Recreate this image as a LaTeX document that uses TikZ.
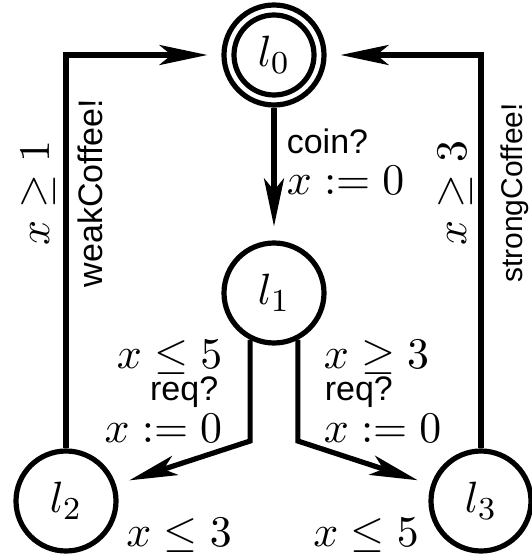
\documentclass[tikz,border=0pt]{standalone}
\usepackage{fontspec}
\setsansfont{Liberation Sans}
\usetikzlibrary{arrows.meta}
\begin{document}
\begin{tikzpicture}[x=0.25pt,y=-0.25pt,
  loc/.style={circle,draw,line width=1.3pt,minimum size=25pt,inner sep=0pt,font=\fontsize{11}{13}\selectfont},
  arr/.style={line width=1.3pt,-{Stealth[length=12pt,width=5pt,inset=3pt]},shorten >=3.5pt},
  lbl/.style={inner sep=0pt,font=\fontsize{11}{13}\selectfont},
  sflbl/.style={inner sep=0pt,font=\fontsize{8.5}{10}\selectfont\sffamily}]
\useasboundingbox (0,0) rectangle (532,556);
% locations
\node[loc] (l0) at (274,55) {$l_0$};
\draw[line width=1.3pt] (l0.center) circle[radius=10pt];
\node[loc] (l1) at (274,293) {$l_1$};
\node[loc] (l2) at (66,501) {$l_2$};
\node[loc] (l3) at (481,501) {$l_3$};
% bends
\coordinate (kl) at (250,441);
\coordinate (kr) at (300,441);
% edges
\draw[arr] (l2) |- (l0);
\draw[arr] (l3) |- (l0);
\draw[arr] (l0) -- (l1);
\draw[arr] (l1.243) -- (l1.243 |- kl) -- (l2);
\draw[arr] (l1.297) -- (l1.297 |- kr) -- (l3);
% labels l0 -> l1
\node[sflbl,anchor=west] (coin) at (286,141) {coin?};
\node[lbl,anchor=west] (r01) at (286,180) {$x := 0$};
% labels l1 -> l2
\node[lbl,anchor=east] (g12) at (223,357) {$x \leq 5$};
\node[sflbl,anchor=east] (s12) at (219,392) {req?};
\node[lbl,anchor=east] (r12) at (223,428) {$x := 0$};
% labels l1 -> l3
\node[lbl,anchor=west] (g13) at (323,357) {$x \geq 3$};
\node[sflbl,anchor=west] (s13) at (324,392) {req?};
\node[lbl,anchor=west] (r13) at (323,428) {$x := 0$};
% invariants
\node[lbl] (inv2) at (179,535) {$x \leq 3$};
\node[lbl] (inv3) at (366,535) {$x \leq 5$};
% rotated labels
\node[lbl,rotate=90] (g20) at (38,193) {$x \geq 1$};
\node[sflbl,rotate=90] (s20) at (90,193) {weakCoffee!};
\node[lbl,rotate=90] (g30) at (455,193) {$x \geq 3$};
\node[sflbl,rotate=90,font=\fontsize{7.5}{9}\selectfont\sffamily] (s30) at (515,193) {strongCoffee!};
\end{tikzpicture}
\end{document}
